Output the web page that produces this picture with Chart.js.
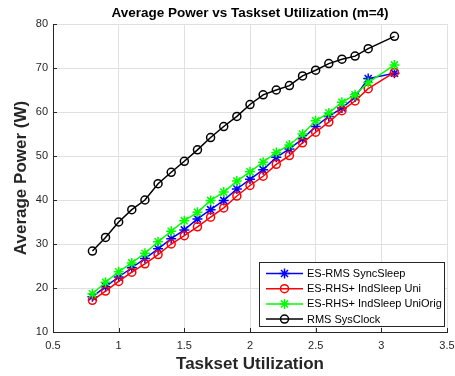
<!DOCTYPE html>
<html>
<head>
<meta charset="utf-8">
<script src="https://cdn.jsdelivr.net/npm/chart.js@4/dist/chart.umd.min.js"></script>
<style>
  html, body { margin: 0; padding: 0; background: #ffffff; }
  canvas { display: block; }
</style>
</head>
<body>
<canvas id="chart" width="455" height="376"></canvas>
<script>
// Taskset utilization values (x axis)
const utilization = [0.8, 0.9, 1.0, 1.1, 1.2, 1.3, 1.4, 1.5, 1.6, 1.7, 1.8, 1.9, 2.0, 2.1, 2.2, 2.3, 2.4, 2.5, 2.6, 2.7, 2.8, 2.9, 3.1];

// Average power (W) per scheme
const esRmsSyncSleep       = [18.0, 20.3, 22.5, 24.6, 26.7, 28.9, 31.2, 33.2, 35.7, 37.8, 39.9, 42.5, 44.7, 46.9, 49.7, 51.6, 53.9, 56.7, 59.0, 60.9, 63.4, 67.6, 68.8];
const esRhsIndSleepUni     = [17.2, 19.3, 21.5, 23.6, 25.5, 27.6, 30.0, 31.9, 33.9, 36.1, 38.2, 40.9, 43.3, 45.4, 48.1, 50.1, 53.0, 55.4, 57.7, 60.3, 62.5, 65.3, 69.0];
const esRhsIndSleepUniOrig = [18.7, 21.3, 23.7, 25.7, 27.9, 30.5, 32.9, 35.3, 37.2, 39.9, 41.8, 44.3, 46.4, 48.6, 50.8, 52.5, 55.0, 58.0, 59.8, 62.2, 63.9, 66.7, 70.7];
const rmsSysClock          = [28.4, 31.5, 35.0, 37.8, 40.0, 43.7, 46.3, 48.8, 51.4, 54.2, 56.7, 59.0, 61.7, 63.9, 65.0, 66.0, 68.2, 69.5, 71.0, 72.0, 72.7, 74.4, 77.2];

const seriesLabels = ['ES-RMS SyncSleep', 'ES-RHS+ IndSleep Uni', 'ES-RHS+ IndSleep UniOrig', 'RMS SysClock'];

// Axis ticks
const xTickValues = [0.5, 1, 1.5, 2, 2.5, 3, 3.5];
const yTickValues = [10, 20, 30, 40, 50, 60, 70, 80];

const FONT = '"Liberation Sans", Arial, Helvetica, sans-serif';
const AXIS_COLOR = '#262626';

function toPoints(ys) {
  return utilization.map((x, i) => ({ x: x, y: ys[i] }));
}

function makeSeries(label, values, color, marker, order) {
  return {
    label: label,
    data: toPoints(values),
    showLine: true,
    borderColor: color,
    backgroundColor: color,
    borderWidth: 1.5,
    pointStyle: marker,
    pointRadius: marker === 'star' ? 5 : 4,
    pointHoverRadius: marker === 'star' ? 5 : 4,
    pointBorderColor: color,
    pointBackgroundColor: 'rgba(0,0,0,0)',
    pointBorderWidth: 1.5,
    order: order
  };
}

// Axes decoration: inward tick marks, title and the boxed legend
const matlabStyle = {
  id: 'matlabStyle',
  afterDatasetsDraw(chart) {
    const ctx = chart.ctx;
    const xs = chart.scales.x, ys = chart.scales.y;
    const area = chart.chartArea;
    ctx.save();
    ctx.strokeStyle = AXIS_COLOR;
    ctx.lineWidth = 1;
    ctx.beginPath();
    yTickValues.forEach(v => {
      const py = Math.round(ys.getPixelForValue(v)) + 0.5;
      ctx.moveTo(area.left, py);
      ctx.lineTo(area.left + 4, py);
    });
    xTickValues.forEach(v => {
      const px = Math.round(xs.getPixelForValue(v)) + 0.5;
      ctx.moveTo(px, area.bottom);
      ctx.lineTo(px, area.bottom - 4);
    });
    ctx.stroke();
    ctx.restore();
  },
  afterDraw(chart) {
    const ctx = chart.ctx;
    const area = chart.chartArea;
    ctx.save();

    // title
    ctx.fillStyle = '#000000';
    ctx.font = 'bold 13.5px ' + FONT;
    ctx.textAlign = 'center';
    ctx.textBaseline = 'middle';
    ctx.fillText('Average Power vs Taskset Utilization (m=4)', (area.left + area.right) / 2, 13);

    // legend box
    const bx = 259.5, by = 262.5, bw = 185, bh = 64;
    ctx.fillStyle = '#ffffff';
    ctx.fillRect(bx, by, bw, bh);
    ctx.strokeStyle = AXIS_COLOR;
    ctx.lineWidth = 1;
    ctx.strokeRect(bx, by, bw, bh);

    ctx.font = '11px ' + FONT;
    ctx.textAlign = 'left';
    ctx.textBaseline = 'middle';
    chart.data.datasets.forEach((ds, i) => {
      const cy = 273.5 + i * 15.2;
      ctx.strokeStyle = ds.borderColor;
      ctx.lineWidth = 1.5;
      ctx.beginPath();
      ctx.moveTo(266, cy);
      ctx.lineTo(303, cy);
      ctx.stroke();
      ctx.fillStyle = 'rgba(0,0,0,0)';
      Chart.helpers.drawPoint(ctx, {
        pointStyle: ds.pointStyle,
        radius: ds.pointRadius,
        borderWidth: 1.5,
        rotation: 0
      }, 284.5, cy);
      ctx.fillStyle = '#000000';
      ctx.fillText(ds.label, 307, cy + 0.5);
    });
    ctx.restore();
  }
};

new Chart(document.getElementById('chart'), {
  type: 'scatter',
  data: {
    datasets: [
      makeSeries(seriesLabels[0], esRmsSyncSleep, '#0000ff', 'star', 4),
      makeSeries(seriesLabels[1], esRhsIndSleepUni, '#ff0000', 'circle', 3),
      makeSeries(seriesLabels[2], esRhsIndSleepUniOrig, '#00ff00', 'star', 2),
      makeSeries(seriesLabels[3], rmsSysClock, '#000000', 'circle', 1)
    ]
  },
  options: {
    responsive: false,
    animation: false,
    events: [],
    layout: { padding: { top: 24, right: 8, left: 0, bottom: 0 } },
    plugins: {
      legend: { display: false },
      tooltip: { enabled: false },
      title: { display: false }
    },
    scales: {
      x: {
        type: 'linear',
        min: 0.5,
        max: 3.5,
        afterBuildTicks: s => { s.ticks = xTickValues.map(v => ({ value: v })); },
        afterFit: s => { s.height = 44; s.paddingLeft = 0; s.paddingRight = 0; },
        grid: { color: '#e0e0e0', lineWidth: 1, drawTicks: false },
        border: { display: true, color: AXIS_COLOR, width: 1 },
        ticks: {
          color: AXIS_COLOR,
          font: { family: FONT, size: 11 },
          padding: 7,
          maxRotation: 0,
          callback: v => String(v)
        },
        title: {
          display: true,
          text: 'Taskset Utilization',
          color: AXIS_COLOR,
          font: { family: FONT, size: 17, weight: 'bold', lineHeight: 1.2 },
          padding: { top: 0, bottom: 1 }
        }
      },
      y: {
        type: 'linear',
        min: 10,
        max: 80,
        afterBuildTicks: s => { s.ticks = yTickValues.map(v => ({ value: v })); },
        afterFit: s => { s.width = 53; s.paddingTop = 0; s.paddingBottom = 0; },
        grid: { color: '#e0e0e0', lineWidth: 1, drawTicks: false },
        border: { display: true, color: AXIS_COLOR, width: 1 },
        ticks: {
          color: AXIS_COLOR,
          font: { family: FONT, size: 11 },
          padding: 5,
          callback: v => String(v)
        },
        title: {
          display: true,
          text: 'Average Power (W)',
          color: AXIS_COLOR,
          font: { family: FONT, size: 17, weight: 'bold', lineHeight: 1.2 },
          padding: { top: 11, bottom: 0 }
        }
      }
    }
  },
  plugins: [matlabStyle]
});
</script>
</body>
</html>
